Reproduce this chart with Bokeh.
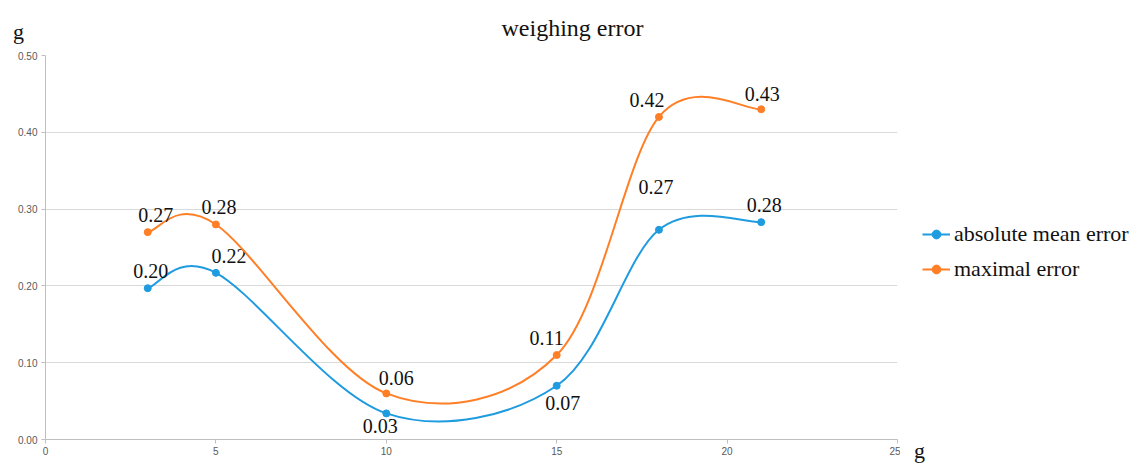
from bokeh.plotting import figure
from bokeh.layouts import column, row
from bokeh.models import (ColumnDataSource, Range1d, FixedTicker, NumeralTickFormatter,
                          Legend, LegendItem)
from bokeh.embed import file_html
from bokeh.resources import INLINE
from bokeh.core.properties import value

# ---- data ----
weights = [3, 5, 10, 15, 18, 21]
abs_mean_error = [0.197, 0.217, 0.034, 0.070, 0.273, 0.283]
max_error = [0.270, 0.280, 0.060, 0.110, 0.420, 0.430]
abs_labels = ["0.20", "0.22", "0.03", "0.07", "0.27", "0.28"]
max_labels = ["0.27", "0.28", "0.06", "0.11", "0.42", "0.43"]
series_names = ["absolute mean error", "maximal error"]
x_ticks = [0, 5, 10, 15, 20, 25]
y_ticks = [0.0, 0.1, 0.2, 0.3, 0.4, 0.5]
title_text = "weighing error"
unit_label = "g"

BLUE = "#1f9be0"
ORANGE = "#ff7f27"
SERIF = "Liberation Serif"
SANS = "Liberation Sans"
INK = "#111111"


def strip(w, h):
    fig = figure(width=w, height=h, output_backend="svg", toolbar_location=None,
                 x_range=Range1d(0, w), y_range=Range1d(h, 0), title=None,
                 x_axis_location=None, y_axis_location=None,
                 min_border=0, min_border_left=0, min_border_right=0,
                 min_border_top=0, min_border_bottom=0)
    fig.frame_align = False
    fig.outline_line_color = None
    fig.grid.visible = False
    fig.background_fill_color = "white"
    fig.border_fill_color = "white"
    return fig


# ---- top strip: title + y unit ----
top = strip(1133, 45)
top.text(x=[572], y=[27], text=[title_text], text_align="center", text_baseline="middle",
         text_font=value(SERIF), text_font_size="24px", text_color=INK)
top.text(x=[18], y=[31], text=[unit_label], text_align="center", text_baseline="middle",
         text_font=value(SERIF), text_font_size="22px", text_color=INK)

# ---- main chart ----
p = figure(width=900, height=418, output_backend="svg", toolbar_location=None,
           x_range=Range1d(0, 25), y_range=Range1d(0, 0.5), title=None,
           min_border_left=45, min_border_right=3, min_border_top=10, min_border_bottom=24)
p.frame_align = False
p.outline_line_color = None
p.background_fill_color = "white"
p.border_fill_color = "white"

for ax in (p.xaxis[0], p.yaxis[0]):
    ax.axis_line_color = "#bfbfbf"
    ax.major_tick_line_color = "#bfbfbf"
    ax.major_tick_out = 4
    ax.major_tick_in = 0
    ax.minor_tick_line_color = None
    ax.major_label_text_font = SANS
    ax.major_label_text_font_size = "10px"
    ax.major_label_text_color = "#595959"
p.xaxis.ticker = FixedTicker(ticks=x_ticks)
p.yaxis.ticker = FixedTicker(ticks=y_ticks)
p.yaxis.formatter = NumeralTickFormatter(format="0.00")
p.xaxis.major_label_standoff = 3
p.yaxis.major_label_standoff = 4
p.xgrid.grid_line_color = None
p.ygrid.grid_line_color = "#d9d9d9"
p.ygrid.grid_line_width = 1


def smooth_segments(xs, ys):
    n = len(xs)
    x0, y0, x1, y1, cx0, cy0, cx1, cy1 = [], [], [], [], [], [], [], []
    for i in range(n - 1):
        ip = max(i - 1, 0)
        inn = min(i + 2, n - 1)
        x0.append(xs[i]); y0.append(ys[i])
        x1.append(xs[i + 1]); y1.append(ys[i + 1])
        cx0.append(xs[i] + (xs[i + 1] - xs[ip]) / 6.0)
        cy0.append(ys[i] + (ys[i + 1] - ys[ip]) / 6.0)
        cx1.append(xs[i + 1] - (xs[inn] - xs[i]) / 6.0)
        cy1.append(ys[i + 1] - (ys[inn] - ys[i]) / 6.0)
    return dict(x0=x0, y0=y0, x1=x1, y1=y1, cx0=cx0, cy0=cy0, cx1=cx1, cy1=cy1)


# offsets (screen px) for the data labels
abs_dx = [3, 13, -6, 6, -3, 3]
abs_dy = [-17, -17, 13, 17, -43, -17]
max_dx = [8, 3, 10, -10, -12, 1]
max_dy = [-17, -17, -15, -17, -17, -15]

for ys, labels, color, dx, dy in [
        (abs_mean_error, abs_labels, BLUE, abs_dx, abs_dy),
        (max_error, max_labels, ORANGE, max_dx, max_dy)]:
    seg = ColumnDataSource(smooth_segments(weights, ys))
    p.bezier(x0="x0", y0="y0", x1="x1", y1="y1", cx0="cx0", cy0="cy0",
             cx1="cx1", cy1="cy1", source=seg, line_color=color, line_width=2)
    src = ColumnDataSource(dict(x=weights, y=ys, t=labels, dx=dx, dy=dy))
    p.scatter("x", "y", source=src, size=7, fill_color=color, line_color=color)
    p.text("x", "y", text="t", source=src, x_offset="dx", y_offset="dy",
           text_align="center", text_baseline="middle",
           text_font=value(SERIF), text_font_size="20px", text_color=INK)

# ---- side strip: legend + x unit ----
side = strip(233, 418)
items = []
for color, name in [(BLUE, series_names[0]), (ORANGE, series_names[1])]:
    rl = side.line([-10, -9], [-10, -10], line_color=color, line_width=2)
    rm = side.scatter([-10], [-10], size=6, fill_color=color, line_color=color)
    items.append(LegendItem(label=name, renderers=[rl, rm]))
legend = Legend(items=items, location=(22, 181), label_text_font=SERIF,
                label_text_font_size="22px", label_text_color=INK,
                glyph_width=28, glyph_height=22, spacing=9, padding=0, margin=0,
                border_line_color=None, background_fill_alpha=0, label_standoff=4,
                label_height=22)
side.add_layout(legend)
side.text(x=[19], y=[405], text=[unit_label], text_align="center", text_baseline="middle",
          text_font=value(SERIF), text_font_size="22px", text_color=INK)

layout = column(top, row(p, side, spacing=0), spacing=0)
open("out.html", "w").write(file_html(layout, INLINE))
